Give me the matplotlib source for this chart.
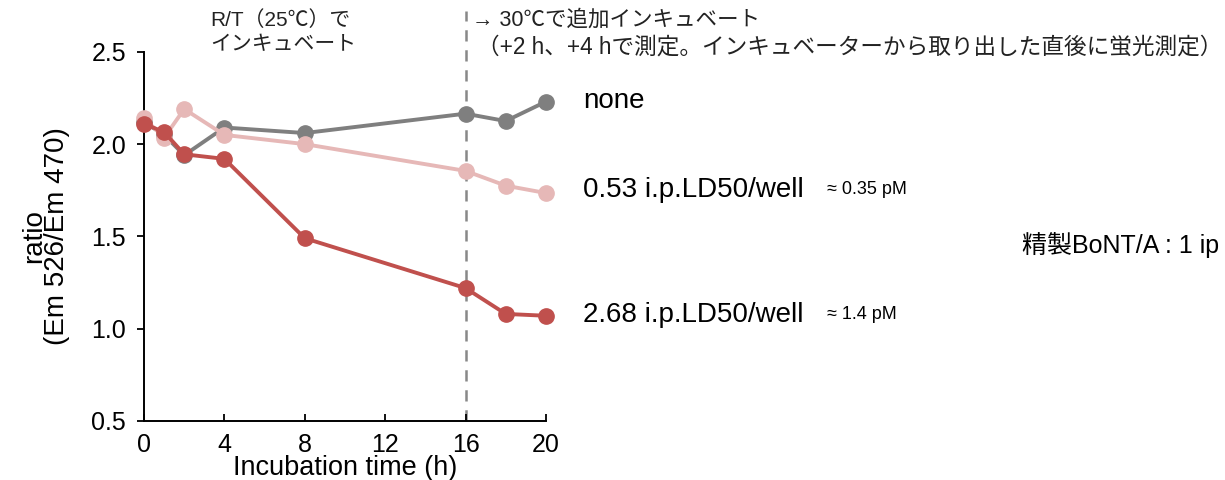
import matplotlib
matplotlib.use('Agg')
import matplotlib.pyplot as plt

plt.rcParams['font.family'] = ['Liberation Sans', 'Noto Sans CJK JP', 'DejaVu Sans']

# data
hours = [0, 1, 2, 4, 8, 16, 18, 20]
none_ratio = [2.12, 2.05, 1.94, 2.09, 2.06, 2.165, 2.125, 2.23]
low_ratio = [2.14, 2.035, 2.19, 2.05, 2.0, 1.855, 1.775, 1.735]
high_ratio = [2.11, 2.065, 1.945, 1.92, 1.49, 1.22, 1.08, 1.07]

series_labels = ['none', '0.53 i.p.LD50/well', '2.68 i.p.LD50/well']
conc_labels = ['', '≈ 0.35 pM', '≈ 1.4 pM']
colors = ['#7f7f7f', '#e6b8b7', '#c0504d']

x_ticks = [0, 4, 8, 12, 16, 20]
y_ticks = [0.5, 1.0, 1.5, 2.0, 2.5]

fig = plt.figure(figsize=(12.25, 4.8), dpi=100)
ax = fig.add_axes([0.1176, 0.123, 0.328, 0.769])

# vertical marker for switch to 30C
ax.plot([16, 16], [0.5, 2.72], color='#888888', lw=1.8, ls=(0, (4.5, 3.5)),
        clip_on=False, zorder=1)

for vals, c in zip([none_ratio, low_ratio, high_ratio], colors):
    ax.plot(hours, vals, color=c, lw=2.8, marker='o', ms=11, clip_on=False, zorder=3)

ax.set_xlim(0, 20)
ax.set_ylim(0.5, 2.5)
ax.set_xticks(x_ticks)
ax.set_yticks(y_ticks)
ax.set_yticklabels([f'{v:.1f}' for v in y_ticks])
ax.tick_params(axis='x', direction='in', length=5, width=1.3, labelsize=18, pad=9)
ax.tick_params(axis='y', direction='out', length=5, width=1.3, labelsize=18, pad=8)
for s in ['top', 'right']:
    ax.spines[s].set_visible(False)
ax.spines['left'].set_linewidth(1.4)
ax.spines['bottom'].set_linewidth(1.4)

ax.set_xlabel('Incubation time (h)', fontsize=19.5, labelpad=-1.5)
ax.set_ylabel('ratio\n(Em 526/Em 470)', fontsize=20, linespacing=0.85, labelpad=15)

# series labels on the right
label_y = [2.234, 1.752, 1.075]
for lab, conc, ly in zip(series_labels, conc_labels, label_y):
    ax.text(21.84, ly, lab, fontsize=20, va='center', ha='left', clip_on=False)
    if conc:
        ax.text(34.0, ly, conc, fontsize=13, va='center', ha='left', clip_on=False)

ax.text(3.28, 2.673, 'R/T（25℃）で', fontsize=15, va='center', ha='left', color='#222222')
ax.text(3.28, 2.538, 'インキュベート', fontsize=15, va='center', ha='left', color='#222222')
ax.text(16.3, 2.673, '→ 30℃で追加インキュベート', fontsize=15.5, va='center', ha='left',
        color='#222222')
ax.text(16.55, 2.527, '（+2 h、+4 hで測定。インキュベーターから取り出した直後に蛍光測定）',
        fontsize=16.3, va='center', ha='left', color='#222222')

fig.text(1022 / 1225, 1 - 245 / 480, '精製BoNT/A : 1 ip', fontsize=18, va='center', ha='left')

fig.savefig('out.png', dpi=100)
